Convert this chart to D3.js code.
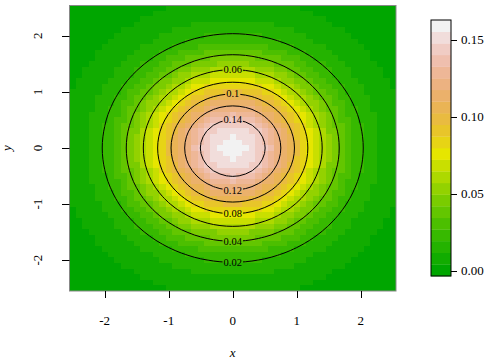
<!DOCTYPE html>
<html>
<head>
<meta charset="utf-8">
<script src="https://cdn.jsdelivr.net/npm/d3@7"></script>
<style>
  html, body { margin: 0; padding: 0; background: #fff; }
</style>
</head>
<body>
<div id="chart"></div>
<script>
// standard normal density at the grid points 0, 0.1, ... 2.5 (mirrored for the negative side)
const margHalf = [0.39894, 0.39695, 0.39104, 0.38139, 0.36827, 0.35207, 0.33322, 0.31225,
  0.28969, 0.26609, 0.24197, 0.21785, 0.19419, 0.17137, 0.14973, 0.12952, 0.11092,
  0.09405, 0.07895, 0.06562, 0.05399, 0.04398, 0.03547, 0.02833, 0.02239, 0.01753];
const gridStep = 0.1;
const levels = [0.02, 0.04, 0.06, 0.08, 0.10, 0.12, 0.14];
const levelLabels = ['0.02', '0.04', '0.06', '0.08', '0.1', '0.12', '0.14'];
const labelSide = ['bottom', 'bottom', 'top', 'bottom', 'top', 'bottom', 'top'];
const xTicks = [-2, -1, 0, 1, 2];
const yTicks = [-2, -1, 0, 1, 2];
const legendTicks = [0.00, 0.05, 0.10, 0.15];
const nColors = 22;

const W = 497, H = 360;
const SERIF = '"Liberation Serif", "Times New Roman", Times, serif';
const marg = margHalf.slice(1).reverse().concat(margHalf);
const nx = marg.length, ny = marg.length;
const gx = marg.map((_, i) => (i - (nx - 1) / 2) * gridStep);
const gy = gx.slice();

// row j = gy[j], col i = gx[i]
const values = [];
const cells = [];
for (let j = 0; j < ny; j++) {
  for (let i = 0; i < nx; i++) {
    const z = marg[i] * marg[j];
    values.push(z);
    cells.push({x: gx[i], y: gy[j], z});
  }
}
const zmin = d3.min(values), zmax = d3.max(values);
const step = (zmax - zmin) / (nColors - 1);

// R terrain.colors
function hsv(h, s, v) {
  const h6 = h * 6, i = Math.floor(h6) % 6, f = h6 - Math.floor(h6);
  const p = v * (1 - s), q = v * (1 - s * f), t = v * (1 - s * (1 - f));
  const rgb = [[v, t, p], [q, v, p], [p, v, t], [p, q, v], [t, p, v], [v, p, q]][i];
  return d3.rgb(rgb[0] * 255, rgb[1] * 255, rgb[2] * 255).formatHex();
}
function terrainColors(n) {
  const k = Math.floor(n / 2);
  const out = [];
  const seq = (a, b, len) => d3.range(len).map(i => len === 1 ? a : a + (b - a) * i / (len - 1));
  const h1 = seq(4 / 12, 2 / 12, k), s1 = seq(1, 1, k), v1 = seq(0.65, 0.9, k);
  for (let i = 0; i < k; i++) out.push(hsv(h1[i], s1[i], v1[i]));
  const m = n - k + 1;
  const h2 = seq(2 / 12, 0, m), s2 = seq(1, 0, m), v2 = seq(0.9, 0.95, m);
  for (let i = 1; i < m; i++) out.push(hsv(h2[i], s2[i], v2[i]));
  return out;
}
const palette = terrainColors(nColors);
const colorIndex = z => Math.max(0, Math.min(nColors - 1, Math.round((z - zmin) / step)));

const svg = d3.select('#chart').append('svg')
  .attr('width', W).attr('height', H)
  .style('display', 'block');

const x = d3.scaleLinear().domain([-2.55, 2.55]).range([69.5, 396]);
const y = d3.scaleLinear().domain([-2.55, 2.55]).range([291, 5]);

// image cells
svg.append('g').selectAll('rect').data(cells).join('rect')
  .attr('x', d => Math.round(x(d.x - gridStep / 2)))
  .attr('y', d => Math.round(y(d.y + gridStep / 2)))
  .attr('width', d => Math.round(x(d.x + gridStep / 2)) - Math.round(x(d.x - gridStep / 2)))
  .attr('height', d => Math.round(y(d.y - gridStep / 2)) - Math.round(y(d.y + gridStep / 2)))
  .attr('fill', d => palette[colorIndex(d.z)])
  .attr('shape-rendering', 'crispEdges');

// contours
const contours = d3.contours().size([nx, ny]).thresholds(levels)(values);
const toData = (cx, cy) => [gx[0] + (cx - 0.5) * gridStep, gy[0] + (cy - 0.5) * gridStep];
const proj = d3.geoTransform({
  point(px, py) {
    const p = toData(px, py);
    this.stream.point(x(p[0]), y(p[1]));
  }
});
const path = d3.geoPath(proj);

const defs = svg.append('defs');
const mask = defs.append('mask').attr('id', 'labelGaps').attr('maskUnits', 'userSpaceOnUse');
mask.append('rect').attr('x', 0).attr('y', 0).attr('width', W).attr('height', H).attr('fill', '#fff');

const labelG = svg.append('g');
contours.forEach((c, k) => {
  // point of the ring closest to x = 0 on the chosen side
  let best = null;
  c.coordinates.forEach(poly => poly.forEach(ring => ring.forEach(pt => {
    const p = toData(pt[0], pt[1]);
    const ok = labelSide[k] === 'top' ? p[1] > 0 : p[1] < 0;
    if (ok && (!best || Math.abs(p[0]) < Math.abs(best[0]))) best = p;
  })));
  if (!best) return;
  const t = labelG.append('text')
    .attr('x', x(0)).attr('y', y(best[1]))
    .attr('text-anchor', 'middle')
    .attr('dominant-baseline', 'central')
    .attr('font-family', SERIF)
    .attr('font-size', 10.5)
    .attr('fill', '#000')
    .text(levelLabels[k]);
  const w = t.node().getComputedTextLength();
  mask.append('rect')
    .attr('x', x(0) - w / 2 - 1).attr('y', y(best[1]) - 4)
    .attr('width', w + 2).attr('height', 8).attr('fill', '#000');
});

svg.insert('g', () => labelG.node())
  .attr('mask', 'url(#labelGaps)')
  .selectAll('path').data(contours).join('path')
  .attr('d', path)
  .attr('fill', 'none')
  .attr('stroke', '#000')
  .attr('stroke-width', 1);

// box
svg.append('rect')
  .attr('x', 69.5).attr('y', 5.5).attr('width', 326.5).attr('height', 285.5)
  .attr('fill', 'none').attr('stroke', '#888').attr('stroke-width', 1);

// x axis
const xa = svg.append('g').attr('font-family', SERIF).attr('fill', '#000');
xa.selectAll('line').data(xTicks).join('line')
  .attr('x1', d => Math.round(x(d)) + 0.5).attr('x2', d => Math.round(x(d)) + 0.5)
  .attr('y1', 291).attr('y2', 298)
  .attr('stroke', '#000');
xa.selectAll('text').data(xTicks).join('text')
  .attr('x', d => x(d)).attr('y', 325)
  .attr('text-anchor', 'middle').attr('font-size', 13)
  .text(d => d);
svg.append('text').attr('x', x(0)).attr('y', 357)
  .attr('font-family', SERIF).attr('fill', '#000')
  .attr('text-anchor', 'middle').attr('font-size', 13).attr('font-style', 'italic')
  .text('x');

// y axis
const ya = svg.append('g').attr('font-family', SERIF).attr('fill', '#000');
ya.selectAll('line').data(yTicks).join('line')
  .attr('x1', 62).attr('x2', 69.5)
  .attr('y1', d => Math.round(y(d)) + 0.5).attr('y2', d => Math.round(y(d)) + 0.5)
  .attr('stroke', '#000');
ya.selectAll('text').data(yTicks).join('text')
  .attr('transform', d => `translate(42,${y(d)}) rotate(-90)`)
  .attr('text-anchor', 'middle').attr('font-size', 13)
  .text(d => d);
svg.append('text').attr('transform', `translate(11,${y(0)}) rotate(-90)`)
  .attr('font-family', SERIF).attr('fill', '#000')
  .attr('text-anchor', 'middle').attr('font-size', 13).attr('font-style', 'italic')
  .text('y');

// legend
const ly = d3.scaleLinear().domain([zmin - step / 2, zmax + step / 2]).range([276, 20]);
const lg = svg.append('g').attr('font-family', SERIF).attr('fill', '#000');
lg.selectAll('rect').data(palette).join('rect')
  .attr('x', 431).attr('width', 20)
  .attr('y', (d, i) => ly(zmin + (i + 0.5) * step))
  .attr('height', (d, i) => ly(zmin + (i - 0.5) * step) - ly(zmin + (i + 0.5) * step) + 0.3)
  .attr('fill', d => d);
lg.append('rect').attr('x', 431).attr('y', 20).attr('width', 20).attr('height', 256)
  .attr('fill', 'none').attr('stroke', '#000').attr('stroke-width', 1);
lg.selectAll('line').data(legendTicks).join('line')
  .attr('x1', 451).attr('x2', 457)
  .attr('y1', d => Math.round(ly(d)) + 0.5).attr('y2', d => Math.round(ly(d)) + 0.5)
  .attr('stroke', '#000');
lg.selectAll('text').data(legendTicks).join('text')
  .attr('x', 461).attr('y', d => ly(d))
  .attr('dominant-baseline', 'central').attr('font-size', 13)
  .text(d => d.toFixed(2));
</script>
</body>
</html>
